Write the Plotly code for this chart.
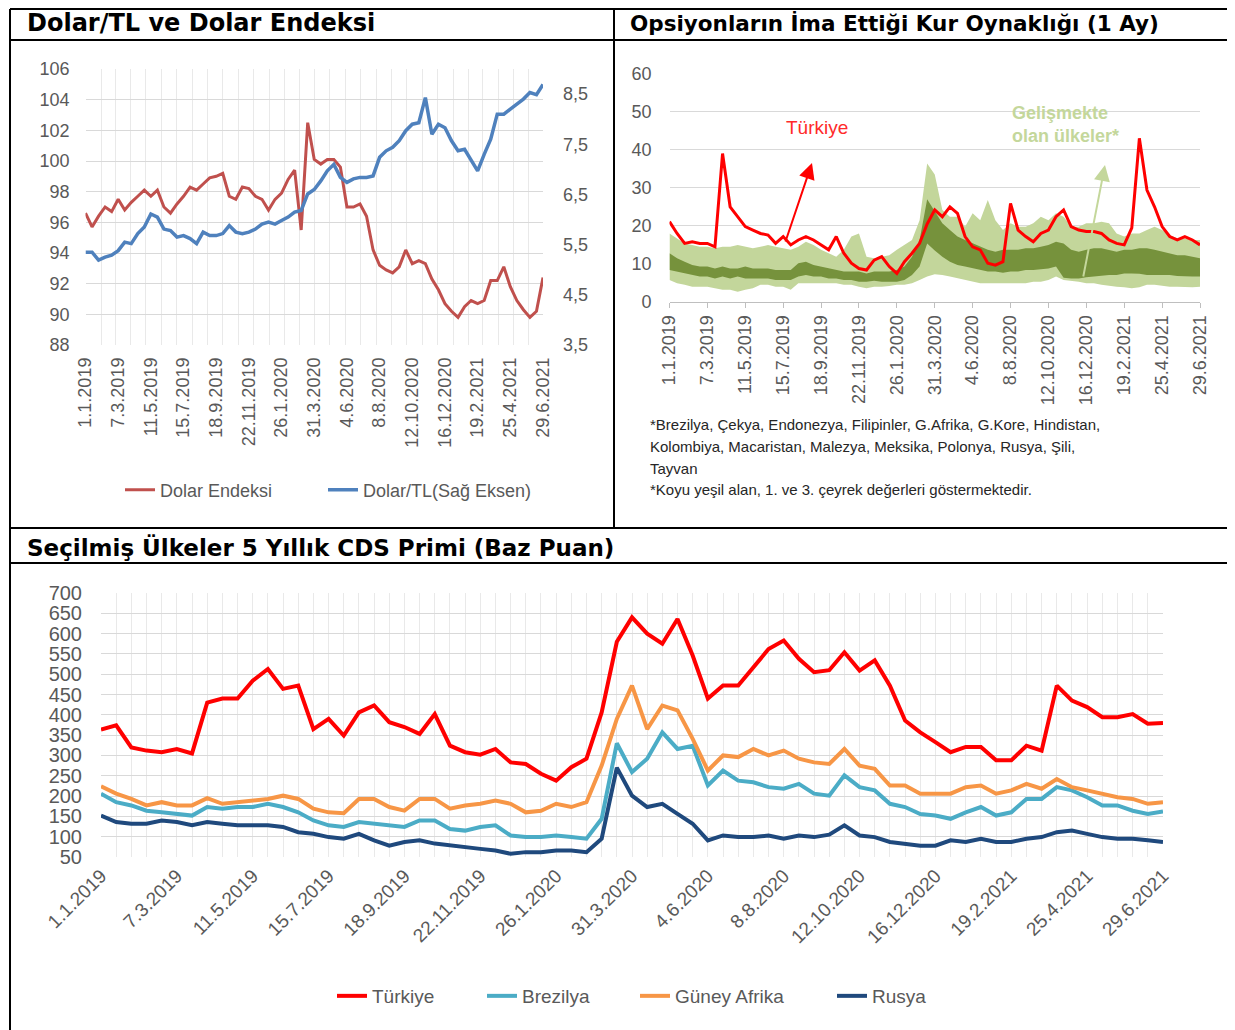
import pandas as pd
import plotly.graph_objects as go

# sayfa 8px govde boslugu ile aciliyor, sekil bu kadar kucuk tutuluyor
OFF = 8
W, H = 1235 - OFF, 1030 - OFF

#################################
# data (13 gunluk adimlarla okunmus degerler)
#################################

dates = pd.date_range("2019-01-01", "2021-06-29", freq="13D")

dolar_endeksi = [96.6, 95.7, 96.4, 97.0, 96.7, 97.5, 96.8, 97.3, 97.7, 98.1,
                 97.7, 98.1, 97.0, 96.6, 97.2, 97.7, 98.3, 98.1, 98.5, 98.9,
                 99.0, 99.2, 97.7, 97.5, 98.3, 98.2, 97.7, 97.5, 96.8, 97.5,
                 97.9, 98.8, 99.4, 95.5, 102.5, 100.1, 99.8, 100.1, 100.1, 99.6,
                 97.0, 97.0, 97.2, 96.4, 94.2, 93.2, 92.9, 92.7, 93.1, 94.2,
                 93.3, 93.5, 93.3, 92.3, 91.6, 90.7, 90.2, 89.8, 90.5, 90.9,
                 90.7, 90.9, 92.2, 92.2, 93.1, 91.8, 90.9, 90.3, 89.8, 90.2,
                 92.4]

dolar_tl = [5.35, 5.35, 5.19, 5.25, 5.29, 5.38, 5.55, 5.52, 5.72, 5.85,
            6.11, 6.05, 5.81, 5.78, 5.65, 5.68, 5.62, 5.52, 5.75, 5.68,
            5.68, 5.72, 5.88, 5.75, 5.72, 5.75, 5.81, 5.91, 5.95, 5.91,
            5.98, 6.05, 6.15, 6.18, 6.51, 6.60, 6.77, 6.97, 7.10, 6.84,
            6.74, 6.81, 6.84, 6.84, 6.87, 7.24, 7.37, 7.44, 7.57, 7.77,
            7.90, 7.93, 8.43, 7.70, 7.90, 7.83, 7.57, 7.37, 7.40, 7.17,
            6.97, 7.30, 7.60, 8.10, 8.10, 8.20, 8.30, 8.40, 8.53, 8.49,
            8.69]

turkiye_vol = [21.1, 18.0, 15.4, 15.8, 15.4, 15.4, 14.5, 39.0, 25.0, 22.4,
               19.8, 18.9, 18.0, 17.6, 15.4, 17.2, 15.0, 16.3, 17.2, 16.3,
               15.0, 13.7, 17.2, 12.8, 10.2, 8.8, 8.4, 11.0, 11.9, 9.3,
               7.5, 10.6, 12.8, 15.4, 20.5, 24.2, 22.4, 25.0, 23.3, 17.2,
               14.5, 13.7, 10.2, 9.7, 10.6, 25.9, 18.9, 17.2, 15.8, 18.0,
               18.9, 22.4, 24.2, 19.8, 18.9, 18.5, 18.5, 18.0, 16.3, 15.4,
               15.0, 19.5, 43.0, 29.4, 25.0, 19.8, 17.2, 16.3, 17.2, 16.3,
               15.0]

em_high = [18.0, 16.7, 15.4, 15.0, 14.5, 14.5, 14.1, 14.5, 14.5, 15.0,
           14.5, 14.1, 14.5, 15.0, 14.5, 14.1, 13.7, 14.5, 15.8, 15.0,
           13.7, 12.8, 11.9, 13.7, 17.2, 18.0, 11.9, 11.5, 11.9, 12.3,
           13.7, 15.0, 16.3, 21.5, 36.4, 33.5, 24.2, 22.4, 22.4, 19.8,
           23.3, 21.5, 26.8, 21.5, 18.9, 20.7, 19.8, 19.8, 20.7, 22.4,
           21.5, 23.3, 22.4, 19.8, 19.8, 20.7, 20.7, 21.1, 20.7, 18.0,
           17.2, 18.0, 18.0, 18.9, 19.8, 18.9, 17.6, 16.7, 16.7, 16.3,
           16.3]

em_q3 = [12.8, 11.5, 10.6, 9.7, 9.3, 9.3, 8.8, 9.3, 8.8, 8.8,
         9.3, 8.8, 8.8, 8.8, 8.4, 8.4, 8.4, 10.2, 10.6, 9.7,
         9.3, 8.8, 8.4, 8.0, 8.0, 8.0, 7.5, 8.0, 8.0, 8.0,
         8.4, 9.3, 11.9, 16.3, 27.0, 24.0, 20.7, 18.9, 17.2, 16.3,
         15.4, 14.5, 13.7, 13.2, 13.7, 13.7, 13.7, 14.1, 14.1, 14.5,
         15.0, 15.8, 15.4, 13.7, 13.2, 13.7, 14.1, 14.1, 13.7, 13.2,
         13.7, 13.7, 14.1, 14.1, 13.7, 13.2, 12.8, 12.3, 12.3, 11.9,
         11.5]

em_q1 = [8.4, 8.0, 7.5, 7.1, 6.7, 6.7, 6.2, 6.7, 6.2, 6.7,
         6.2, 6.2, 6.2, 6.2, 5.8, 5.8, 5.8, 6.7, 7.1, 6.7,
         6.7, 6.2, 6.2, 5.8, 5.8, 5.3, 5.3, 5.6, 5.3, 5.3,
         5.3, 5.8, 7.1, 9.3, 15.4, 13.5, 11.9, 10.6, 9.7, 9.3,
         8.8, 8.4, 8.0, 8.0, 7.7, 8.0, 8.0, 8.4, 8.4, 8.6,
         8.8, 9.3, 6.4, 6.2, 6.2, 6.5, 6.7, 6.8, 7.1, 7.1,
         7.5, 7.5, 7.4, 7.1, 7.1, 7.1, 7.1, 6.8, 6.7, 6.7,
         6.7]

em_low = [5.8, 4.9, 4.5, 4.0, 4.0, 4.0, 3.6, 3.2, 3.2, 2.7,
          3.2, 3.6, 4.5, 4.5, 4.0, 4.0, 3.2, 4.9, 4.9, 4.9,
          4.9, 4.9, 4.9, 4.5, 4.5, 4.0, 3.6, 4.0, 4.0, 4.2,
          4.5, 4.5, 4.9, 5.8, 6.7, 7.3, 7.1, 6.7, 6.2, 5.8,
          5.3, 4.9, 4.9, 4.9, 4.9, 4.9, 4.9, 4.9, 5.3, 5.3,
          5.8, 6.7, 5.8, 5.6, 5.3, 4.9, 4.9, 4.5, 4.2, 4.0,
          3.9, 3.6, 3.9, 4.5, 4.5, 4.2, 4.0, 4.0, 3.9, 3.9,
          4.0]

cds_turkiye = [364, 374, 320, 312, 308, 316, 305, 430, 440, 440,
               484, 513, 464, 472, 365, 390, 349, 406, 423, 382,
               370, 353, 402, 324, 308, 302, 316, 283, 279, 255,
               238, 271, 292, 406, 580, 640, 600, 575, 636, 546,
               440, 472, 472, 517, 562, 583, 538, 505, 510, 554,
               509, 534, 472, 386, 357, 333, 308, 321, 321, 288,
               288, 324, 312, 472, 435, 419, 394, 394, 402, 378,
               380]

cds_brezilya = [206, 185, 177, 164, 160, 156, 152, 173, 169, 173,
                173, 181, 173, 160, 140, 128, 124, 136, 132, 128,
                124, 140, 140, 119, 115, 124, 128, 103, 99, 99,
                103, 99, 95, 144, 330, 259, 292, 357, 316, 324,
                226, 263, 238, 234, 222, 218, 230, 206, 201, 251,
                222, 214, 181, 173, 156, 152, 144, 160, 173, 152,
                160, 193, 193, 222, 214, 197, 177, 177, 164, 156,
                162]

cds_guney_afrika = [224, 206, 193, 177, 185, 177, 177, 195, 181, 185,
                    189, 193, 201, 193, 169, 160, 158, 193, 193, 173,
                    164, 193, 193, 169, 177, 181, 189, 181, 160, 164,
                    181, 173, 185, 275, 390, 472, 365, 423, 411, 341,
                    263, 300, 296, 316, 300, 312, 292, 283, 279, 316,
                    275, 267, 226, 226, 206, 206, 206, 222, 226, 206,
                    214, 230, 218, 242, 222, 214, 206, 197, 193, 181,
                    185]

cds_rusya = [152, 136, 132, 132, 140, 136, 128, 136, 132, 128,
             128, 128, 124, 111, 107, 99, 95, 107, 91, 78,
             87, 91, 83, 78, 74, 70, 66, 58, 62, 62,
             66, 66, 62, 95, 270, 201, 173, 181, 156, 132,
             91, 103, 99, 99, 103, 95, 103, 99, 105, 128,
             103, 99, 87, 83, 78, 78, 91, 87, 95, 87,
             87, 95, 99, 111, 115, 107, 99, 95, 95, 91,
             87]

notes = ["*Brezilya, Çekya, Endonezya, Filipinler, G.Afrika, G.Kore, Hindistan,",
         "Kolombiya, Macaristan, Malezya, Meksika, Polonya, Rusya, Şili,",
         "Tayvan",
         "*Koyu yeşil alan, 1. ve 3. çeyrek değerleri göstermektedir."]

#################################


def px(x):
    # sayfa pikselinden paper koordinatina
    return (x - OFF) / W


def py(y):
    return 1 - (y - OFF) / H


GRAY = "#595959"
GRID = "#d9d9d9"
VGRID = "#e9e9e9"
FONT = "Liberation Sans"
DAY = 86400000

fig = go.Figure()

# --- Dolar/TL ve Dolar Endeksi
fig.add_trace(go.Scatter(x=dates, y=dolar_endeksi, name="Dolar Endeksi", mode="lines",
                         line=dict(color="#c0504d", width=3), xaxis="x", yaxis="y",
                         legend="legend", legendrank=1, legendwidth=158))
fig.add_trace(go.Scatter(x=dates, y=dolar_tl, name="Dolar/TL(Sağ Eksen)", mode="lines",
                         line=dict(color="#4f81bd", width=3.5), xaxis="x", yaxis="y2",
                         legend="legend", legendrank=2))

# --- Opsiyon oynakligi
fig.add_trace(go.Scatter(x=dates, y=em_low, mode="lines", line=dict(width=0, color="#c3d69b"),
                         showlegend=False, xaxis="x2", yaxis="y3"))
fig.add_trace(go.Scatter(x=dates, y=em_high, mode="lines", line=dict(width=0, color="#c3d69b"),
                         fill="tonexty", fillcolor="#c3d69b", showlegend=False, xaxis="x2", yaxis="y3"))
fig.add_trace(go.Scatter(x=dates, y=em_q1, mode="lines", line=dict(width=0, color="#76923c"),
                         showlegend=False, xaxis="x2", yaxis="y3"))
fig.add_trace(go.Scatter(x=dates, y=em_q3, mode="lines", line=dict(width=0, color="#76923c"),
                         fill="tonexty", fillcolor="#76923c", showlegend=False, xaxis="x2", yaxis="y3"))
fig.add_trace(go.Scatter(x=dates, y=turkiye_vol, mode="lines", line=dict(color="#ff0000", width=3),
                         showlegend=False, xaxis="x2", yaxis="y3"))

# --- CDS
cds = [("Türkiye", cds_turkiye, "#ff0000", 105), ("Brezilya", cds_brezilya, "#4bacc6", 108),
       ("Güney Afrika", cds_guney_afrika, "#f79646", 152), ("Rusya", cds_rusya, "#1f497d", None)]
for i, (name, vals, col, lw) in enumerate(cds):
    fig.add_trace(go.Scatter(x=dates, y=vals, name=name, mode="lines", line=dict(color=col, width=4),
                             xaxis="x3", yaxis="y4", legend="legend2", legendrank=i + 1,
                             legendwidth=lw))

date_ticks = dict(type="date", range=[dates[0], dates[-1]], tick0="2019-01-01", dtick=65 * DAY,
                  tickformat="%-d.%-m.%Y", zeroline=False, automargin=False)

fig.update_layout(
    template="none",
    width=W, height=H, margin=dict(l=0, r=0, t=0, b=0, autoexpand=False),
    paper_bgcolor="white", plot_bgcolor="white", separators=",.",
    font=dict(family=FONT, color=GRAY),
    xaxis=dict(date_ticks, domain=[px(85.5), px(543)], anchor="y", tickangle=-90,
               tickfont=dict(size=18, color=GRAY), showgrid=False, ticks="", showline=False,
               ticklabelstandoff=8,
               minor=dict(dtick="M1", tick0="2019-01-01", showgrid=True, gridcolor=VGRID, ticks="")),
    yaxis=dict(domain=[py(345), py(69)], anchor="x", range=[88, 106], tick0=88, dtick=2,
               showgrid=True, gridcolor=GRID, zeroline=False, ticks="", showline=False,
               automargin=False, tickfont=dict(size=18, color=GRAY), ticklabelstandoff=15),
    yaxis2=dict(overlaying="y", side="right", anchor="x", range=[3.5, 9.0], tick0=3.5, dtick=1,
                tickformat=".1f", showgrid=False, zeroline=False, ticks="", showline=False,
                automargin=False, tickfont=dict(size=18, color=GRAY), ticklabelstandoff=19),
    xaxis2=dict(date_ticks, domain=[px(669.5), px(1200)], anchor="y3", tickangle=-90,
                tickfont=dict(size=18, color=GRAY), showgrid=False, showline=True,
                linecolor="#bfbfbf", ticks="outside", ticklen=5, tickcolor="#bfbfbf"),
    yaxis3=dict(domain=[py(302), py(73.6)], anchor="x2", range=[0, 60], dtick=10,
                showgrid=True, gridcolor=GRID, zeroline=False, ticks="", showline=False,
                automargin=False, tickfont=dict(size=18, color=GRAY), ticklabelstandoff=17),
    xaxis3=dict(date_ticks, domain=[px(101), px(1163)], anchor="y4", tickangle=-45,
                tickfont=dict(size=19, color=GRAY), showgrid=True, gridcolor=VGRID, ticks="",
                showline=False, ticklabelstandoff=3,
                minor=dict(dtick=13 * DAY, tick0="2019-01-01", showgrid=True, gridcolor=VGRID, ticks="")),
    yaxis4=dict(domain=[py(857), py(593)], anchor="x3", range=[50, 700], tick0=50, dtick=50,
                showgrid=True, gridcolor=GRID, zeroline=False, ticks="", showline=False,
                automargin=False, tickfont=dict(size=20, color=GRAY), ticklabelstandoff=18),
    legend=dict(orientation="h", x=px(120), y=py(490), xanchor="left", yanchor="middle",
                traceorder="normal", font=dict(size=18, color=GRAY), bgcolor="rgba(0,0,0,0)"),
    legend2=dict(orientation="h", x=px(332), y=py(996), xanchor="left", yanchor="middle",
                 traceorder="normal", font=dict(size=19, color=GRAY), bgcolor="rgba(0,0,0,0)"),
    showlegend=True,
    hovermode=False,
)

# cerceve cizgileri
frame = [(10, 9, 1235, 9), (10, 40, 1235, 40), (614, 9, 614, 528), (10, 9, 10, 1030),
         (10, 528, 1235, 528), (10, 563, 1235, 563)]
for x0, y0, x1, y1 in frame:
    fig.add_shape(type="line", xref="paper", yref="paper", x0=px(x0), y0=py(y0), x1=px(x1), y1=py(y1),
                  line=dict(color="black", width=2))

titles = [("Dolar/TL ve Dolar Endeksi", 25, 23, 24),
          ("Opsiyonların İma Ettiği Kur Oynaklığı (1 Ay)", 628, 23, 21.5),
          ("Seçilmiş Ülkeler 5 Yıllık CDS Primi (Baz Puan)", 25, 547, 23)]
for txt, x, y, s in titles:
    fig.add_annotation(text="<b>" + txt + "</b>", xref="paper", yref="paper", x=px(x), y=py(y),
                       xanchor="left", yanchor="middle", showarrow=False,
                       font=dict(family="DejaVu Sans", size=s, color="black"))

for i, line in enumerate(notes):
    fig.add_annotation(text=line, xref="paper", yref="paper", x=px(648), y=py(425 + i * 21.5),
                       xanchor="left", yanchor="middle", showarrow=False,
                       font=dict(family=FONT, size=15, color="#262626"))

fig.add_annotation(text="Türkiye", xref="paper", yref="paper", x=px(817), y=py(127),
                   xanchor="center", yanchor="middle", showarrow=False,
                   font=dict(family=FONT, size=19, color="#ff2a2a"))
fig.add_annotation(text="<b>Gelişmekte<br>olan ülkeler*</b>", xref="paper", yref="paper", x=px(1010),
                   y=py(125), xanchor="left", yanchor="middle", align="left", showarrow=False,
                   font=dict(family=FONT, size=18, color="#c4d79b"))

# oklar
fig.add_annotation(text="", xref="paper", yref="paper", x=px(812), y=py(163), ax=-27, ay=80,
                   showarrow=True, arrowhead=2, arrowsize=1.6, arrowwidth=2, arrowcolor="#ff0000")
fig.add_annotation(text="", xref="paper", yref="paper", x=px(1105), y=py(165), ax=-22, ay=113,
                   showarrow=True, arrowhead=2, arrowsize=1.6, arrowwidth=2, arrowcolor="#c4d79b")

fig.write_html("out.html")
